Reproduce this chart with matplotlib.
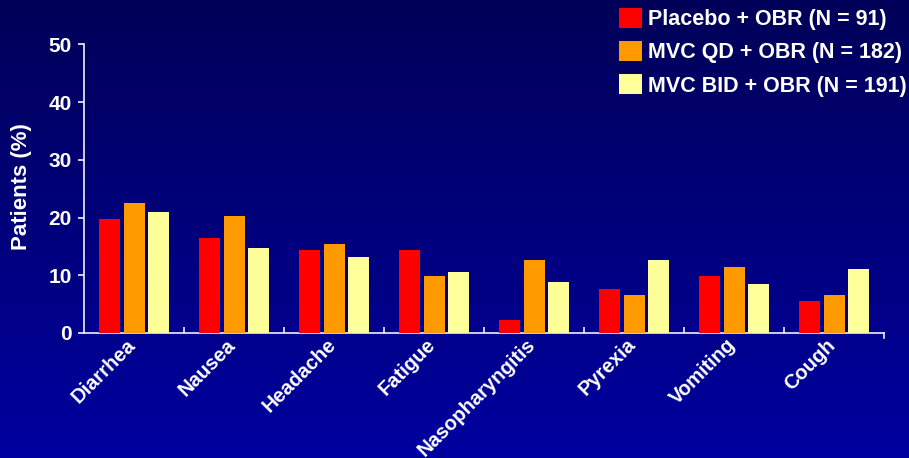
import matplotlib
matplotlib.use("Agg")
import matplotlib.pyplot as plt
import numpy as np
from matplotlib.patches import Patch
from matplotlib.lines import Line2D

plt.rcParams['font.family'] = ['Liberation Sans', 'DejaVu Sans']
plt.rcParams['font.weight'] = 'bold'

categories = ['Diarrhea', 'Nausea', 'Headache', 'Fatigue', 'Nasopharyngitis',
              'Pyrexia', 'Vomiting', 'Cough']
placebo = [19.7, 16.4, 14.3, 14.3, 2.2, 7.7, 9.8, 5.5]
mvc_qd = [22.5, 20.3, 15.4, 9.8, 12.6, 6.5, 11.4, 6.5]
mvc_bid = [20.9, 14.7, 13.1, 10.5, 8.8, 12.6, 8.4, 11.0]
series_names = ['Placebo + OBR (N = 91)', 'MVC QD + OBR (N = 182)',
                'MVC BID + OBR (N = 191)']
colors = ['#ff0000', '#ff9900', '#ffff99']
yticks = [0, 10, 20, 30, 40, 50]

fig = plt.figure(figsize=(9.09, 4.58), dpi=100)

# background gradient
bg = fig.add_axes([0, 0, 1, 1], zorder=-10)
grad = np.linspace(0, 1, 256).reshape(-1, 1)
top = np.array([0x00, 0x00, 0x58]) / 255
bot = np.array([0x00, 0x00, 0xa0]) / 255
img = top + (bot - top) * grad[:, :, None]
bg.imshow(img, aspect='auto', extent=[0, 1, 0, 1], origin='upper')
bg.axis('off')

ax = fig.add_axes([84 / 909, 1 - 333 / 458, 800 / 909, (333 - 44.3) / 458])
ax.set_facecolor('none')

x = np.arange(len(categories))
offsets = [-0.245, 0.0, 0.245]
for vals, off, c, name in zip([placebo, mvc_qd, mvc_bid], offsets, colors, series_names):
    ax.bar(x + off, vals, width=0.21, color=c, label=name, zorder=3)

ax.set_xlim(-0.5, len(categories) - 0.5)
ax.set_ylim(0, 50)

spine_c = '#f0f0f8'
for s in ['top', 'right']:
    ax.spines[s].set_visible(False)
for s in ['left', 'bottom']:
    ax.spines[s].set_color(spine_c)
    ax.spines[s].set_linewidth(1.2)

ax.set_yticks(yticks)
ax.set_yticklabels([str(t) for t in yticks])
ax.tick_params(axis='y', direction='out', length=4, width=1.2, color=spine_c,
               labelcolor='white', labelsize=15, pad=5)

# label anchors slightly left of the category centre, like the original
ax.set_xticks(x - 0.08)
ax.set_xticklabels(categories, rotation=45, ha='right', rotation_mode='anchor',
                   color='white', fontsize=14.5)
ax.tick_params(axis='x', which='major', length=0, pad=1.5)
ax.set_xticks(np.arange(0.5, len(categories) - 0.5, 1), minor=True)
ax.tick_params(axis='x', which='minor', direction='in', length=4.5, width=1.2,
               color=spine_c)
ax.add_line(Line2D([1, 1], [0, -0.018], transform=ax.transAxes, color=spine_c,
                   linewidth=1.2, clip_on=False))

fig.text(22 / 909, 1 - 187 / 458, 'Patients (%)', rotation=90, color='white',
         fontsize=16, fontweight='bold', ha='center', va='center')

handles = [Patch(facecolor=c, edgecolor='none') for c in colors]
leg = fig.legend(handles, series_names, loc='upper left',
                 bbox_to_anchor=(619 / 909, 1 - 8 / 458), frameon=False,
                 fontsize=15.5, handlelength=1.05, handleheight=1.05,
                 handletextpad=0.3, labelspacing=0.5, borderpad=0,
                 borderaxespad=0)
for t in leg.get_texts():
    t.set_color('white')
    t.set_fontweight('bold')

fig.savefig('out.png', dpi=100)
